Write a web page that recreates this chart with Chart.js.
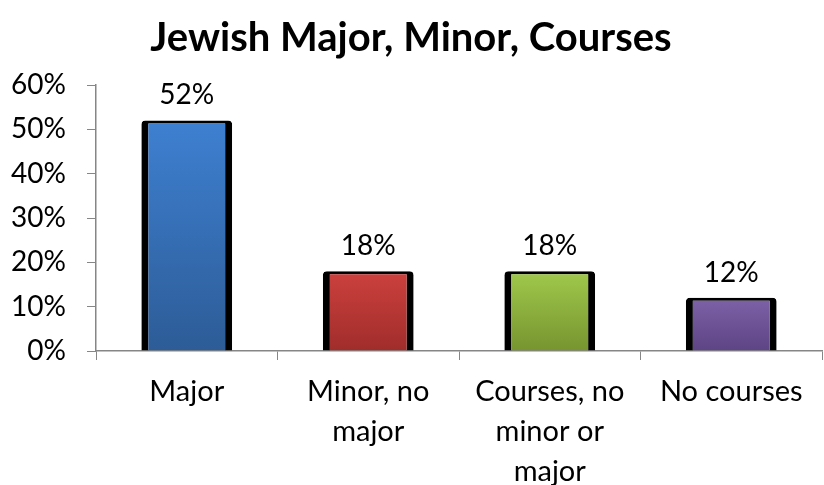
<!DOCTYPE html>
<html>
<head>
<meta charset="utf-8">
<script src="https://cdn.jsdelivr.net/npm/chart.js@4"></script>
<style>
  body { margin: 0; background: #fff; }
  #wrap { width: 824px; height: 485px; }
</style>
</head>
<body>
<div id="wrap"><canvas id="chart"></canvas></div>
<script>
// data
const categories = [["Major"], ["Minor, no", "major"], ["Courses, no", "minor or", "major"], ["No courses"]]
const shares = [0.52, 0.18, 0.18, 0.12]
const topColors = ["#3e80d1", "#cc413e", "#a0c94c", "#7e62a8"]
const bottomColors = ["#2d5c97", "#a02d2b", "#77942f", "#5d4484"]

const FONT = "Lato, 'Open Sans', sans-serif"

// gradient per bar from its top to the axis
function barFill(ctx) {
    var chart = ctx.chart
    var y = chart.scales.y
    var i = ctx.dataIndex
    if (!y || i === undefined) {
        return topColors[0]
    }
    var top = y.getPixelForValue(shares[i])
    var base = y.getPixelForValue(0)
    if (!isFinite(top) || !isFinite(base) || top == base) {
        return topColors[i]
    }
    var g = chart.ctx.createLinearGradient(0, top, 0, base)
    g.addColorStop(0, topColors[i])
    g.addColorStop(1, bottomColors[i])
    return g
}

// value labels above each bar
const valueLabels = {
    id: "valueLabels",
    afterDatasetsDraw(chart) {
        var ctx = chart.ctx
        var meta = chart.getDatasetMeta(0)
        ctx.save()
        ctx.font = "28px " + FONT
        ctx.fillStyle = "#000"
        ctx.textAlign = "center"
        ctx.textBaseline = "middle"
        meta.data.forEach(function(bar, i) {
            ctx.fillText(Math.round(shares[i] * 100) + "%", bar.x, bar.y - 25)
        })
        ctx.restore()
    }
}

new Chart(document.getElementById("chart"), {
    type: "bar",
    data: {
        labels: categories,
        datasets: [{
            data: shares,
            backgroundColor: barFill,
            borderColor: "#000",
            borderWidth: {left: 7, right: 7, top: 3, bottom: 0},
            borderRadius: {topLeft: 4, topRight: 4},
            borderSkipped: "start",
            barPercentage: 0.5,
            categoryPercentage: 1.0
        }]
    },
    options: {
        responsive: true,
        maintainAspectRatio: false,
        animation: false,
        layout: { padding: { left: 0, right: 2, top: 0, bottom: 0 } },
        plugins: {
            legend: { display: false },
            tooltip: { enabled: false },
            title: {
                display: true,
                text: "Jewish Major, Minor, Courses",
                color: "#000",
                font: { family: FONT, size: 40, weight: "bold", lineHeight: 1.2 },
                padding: { top: 14, bottom: 23 }
            }
        },
        scales: {
            x: {
                grid: {
                    drawOnChartArea: false,
                    drawTicks: true,
                    tickLength: 9,
                    offset: true,
                    color: "#868686"
                },
                border: { color: "#868686", width: 1.5 },
                ticks: {
                    color: "#000",
                    font: { family: FONT, size: 29, lineHeight: 1.38 },
                    padding: 12,
                    maxRotation: 0,
                    autoSkip: false
                },
                afterFit(scale) { scale.height = 134 }
            },
            y: {
                min: 0,
                max: 0.6,
                grid: {
                    drawOnChartArea: false,
                    drawTicks: true,
                    tickLength: 9,
                    color: "#868686"
                },
                border: { color: "#868686", width: 1.5 },
                ticks: {
                    stepSize: 0.1,
                    color: "#000",
                    font: { family: FONT, size: 28 },
                    padding: 21,
                    callback: function(v) { return Math.round(v * 100) + "%" }
                },
                afterFit(scale) { scale.width = 96 }
            }
        }
    },
    plugins: [valueLabels]
})
</script>
</body>
</html>
